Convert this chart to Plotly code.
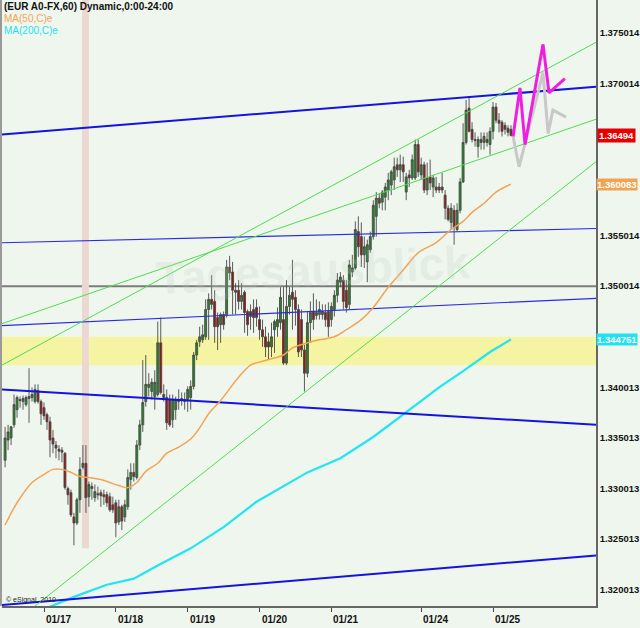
import plotly.graph_objects as go

# ---------------- data ----------------
hours = list(range(-13, 157))  # hourly candle index, 0 = 01/17 00:00

open_ = [1.3328,1.3348,1.3350,1.3363,1.3378,1.3388,1.3386,1.3383,1.3389,1.3390,1.3386,1.3397,1.3386,
         1.3380,1.3373,1.3366,1.3350,1.3343,1.3339,1.3338,1.3335,1.3300,1.3296,1.3272,1.3266,1.3289,1.3321,
         1.3325,1.3292,1.3302,1.3291,1.3295,1.3296,1.3294,1.3294,1.3292,1.3284,1.3286,1.3267,1.3282,1.3272,
         1.3282,1.3309,1.3316,1.3311,1.3343,1.3363,1.3386,1.3400,1.3396,1.3391,1.3393,1.3444,1.3393,1.3390,
         1.3388,1.3368,1.3378,1.3388,1.3389,1.3386,1.3388,1.3390,1.3401,1.3432,1.3445,1.3447,1.3450,1.3477,
         1.3487,1.3485,1.3469,1.3462,1.3472,1.3472,1.3519,1.3514,1.3496,1.3496,1.3485,1.3494,1.3475,1.3475,
         1.3477,1.3479,1.3467,1.3457,1.3450,1.3445,1.3440,1.3457,1.3460,1.3464,1.3467,1.3424,1.3480,1.3494,
         1.3489,1.3477,1.3467,1.3437,1.3414,1.3464,1.3475,1.3471,1.3472,1.3472,1.3474,1.3475,1.3467,1.3477,
         1.3491,1.3504,1.3506,1.3496,1.3482,1.3514,1.3518,1.3554,1.3549,1.3531,1.3524,1.3536,1.3549,1.3569,
         1.3587,1.3583,1.3588,1.3595,1.3600,1.3605,1.3620,1.3615,1.3620,1.3593,1.3610,1.3607,1.3607,1.3640,
         1.3610,1.3620,1.3595,1.3608,1.3598,1.3598,1.3598,1.3598,1.3590,1.3577,1.3563,1.3575,1.3556,1.3575,
         1.3603,1.3642,1.3676,1.3655,1.3645,1.3638,1.3645,1.3642,1.3645,1.3640,1.3653,1.3677,1.3664,1.3662,
         1.3659,1.3656,1.3655]
high = [1.3361,1.3363,1.3362,1.3393,1.3392,1.3391,1.3392,1.3392,1.3419,1.3400,1.3403,1.3403,1.3388,
        1.3385,1.3375,1.3371,1.3358,1.3347,1.3343,1.3341,1.3336,1.3302,1.3299,1.3276,1.3291,1.3331,1.3343,
        1.3343,1.3307,1.3306,1.3304,1.3302,1.3299,1.3299,1.3297,1.3296,1.3292,1.3289,1.3289,1.3284,1.3289,
        1.3319,1.3325,1.3325,1.3348,1.3368,1.3427,1.3432,1.3414,1.3409,1.3417,1.3465,1.3469,1.3403,1.3398,
        1.3393,1.3393,1.3391,1.3398,1.3395,1.3395,1.3401,1.3407,1.3435,1.3447,1.3460,1.3462,1.3487,1.3493,
        1.3511,1.3496,1.3474,1.3474,1.3475,1.3526,1.3530,1.3524,1.3503,1.3506,1.3503,1.3496,1.3477,1.3482,
        1.3487,1.3487,1.3480,1.3467,1.3460,1.3454,1.3464,1.3467,1.3479,1.3499,1.3499,1.3506,1.3499,1.3526,
        1.3496,1.3482,1.3477,1.3442,1.3475,1.3485,1.3493,1.3487,1.3485,1.3482,1.3482,1.3484,1.3484,1.3496,
        1.3513,1.3514,1.3511,1.3506,1.3526,1.3531,1.3564,1.3569,1.3563,1.3549,1.3546,1.3554,1.3585,1.3593,
        1.3592,1.3595,1.3602,1.3612,1.3615,1.3627,1.3627,1.3630,1.3628,1.3612,1.3615,1.3630,1.3645,1.3645,
        1.3627,1.3623,1.3622,1.3625,1.3610,1.3608,1.3602,1.3612,1.3595,1.3580,1.3582,1.3580,1.3582,1.3607,
        1.3661,1.3684,1.3687,1.3662,1.3652,1.3648,1.3652,1.3652,1.3652,1.3657,1.3682,1.3681,1.3671,1.3664,
        1.3662,1.3659,1.3659]
low = [1.3321,1.3338,1.3343,1.3360,1.3370,1.3380,1.3378,1.3381,1.3365,1.3386,1.3384,1.3384,1.3363,
       1.3368,1.3358,1.3331,1.3335,1.3330,1.3328,1.3326,1.3299,1.3284,1.3272,1.3244,1.3264,1.3276,1.3319,
       1.3276,1.3282,1.3289,1.3287,1.3289,1.3282,1.3284,1.3282,1.3277,1.3276,1.3252,1.3264,1.3259,1.3267,
       1.3279,1.3299,1.3307,1.3309,1.3338,1.3356,1.3381,1.3391,1.3388,1.3378,1.3391,1.3393,1.3386,1.3358,
       1.3361,1.3360,1.3368,1.3378,1.3382,1.3378,1.3376,1.3378,1.3398,1.3427,1.3440,1.3444,1.3447,1.3447,
       1.3477,1.3444,1.3437,1.3444,1.3457,1.3469,1.3506,1.3472,1.3472,1.3477,1.3477,1.3454,1.3451,1.3457,
       1.3454,1.3460,1.3447,1.3440,1.3430,1.3427,1.3430,1.3434,1.3450,1.3457,1.3422,1.3422,1.3472,1.3457,
       1.3461,1.3430,1.3430,1.3396,1.3410,1.3444,1.3457,1.3467,1.3467,1.3467,1.3460,1.3450,1.3460,1.3470,
       1.3484,1.3499,1.3477,1.3474,1.3477,1.3509,1.3516,1.3529,1.3519,1.3518,1.3504,1.3533,1.3546,1.3549,
       1.3577,1.3575,1.3575,1.3585,1.3590,1.3595,1.3608,1.3603,1.3603,1.3585,1.3598,1.3605,1.3605,1.3608,
       1.3605,1.3592,1.3590,1.3595,1.3588,1.3592,1.3592,1.3592,1.3566,1.3564,1.3556,1.3541,1.3554,1.3572,
       1.3602,1.3640,1.3652,1.3642,1.3638,1.3627,1.3635,1.3635,1.3638,1.3630,1.3645,1.3661,1.3652,1.3648,
       1.3650,1.3648,1.3648]
close = [1.3350,1.3356,1.3361,1.3383,1.3390,1.3387,1.3389,1.3390,1.3391,1.3393,1.3398,1.3386,1.3374,
         1.3372,1.3366,1.3348,1.3344,1.3340,1.3337,1.3336,1.3301,1.3294,1.3274,1.3266,1.3289,1.3319,1.3325,
         1.3291,1.3304,1.3300,1.3297,1.3294,1.3293,1.3292,1.3286,1.3279,1.3279,1.3266,1.3282,1.3268,1.3284,
         1.3311,1.3316,1.3312,1.3343,1.3363,1.3385,1.3403,1.3403,1.3405,1.3405,1.3444,1.3395,1.3390,1.3365,
         1.3363,1.3388,1.3388,1.3386,1.3387,1.3388,1.3398,1.3401,1.3432,1.3444,1.3450,1.3452,1.3477,1.3487,
         1.3482,1.3460,1.3460,1.3472,1.3462,1.3519,1.3513,1.3496,1.3494,1.3485,1.3491,1.3474,1.3462,1.3470,
         1.3469,1.3469,1.3457,1.3450,1.3440,1.3440,1.3450,1.3465,1.3467,1.3489,1.3424,1.3480,1.3491,1.3487,
         1.3477,1.3435,1.3437,1.3414,1.3464,1.3474,1.3467,1.3474,1.3477,1.3475,1.3467,1.3460,1.3480,1.3491,
         1.3506,1.3509,1.3485,1.3479,1.3521,1.3518,1.3556,1.3539,1.3531,1.3539,1.3541,1.3549,1.3580,1.3587,
         1.3582,1.3593,1.3598,1.3605,1.3613,1.3618,1.3615,1.3620,1.3613,1.3608,1.3607,1.3625,1.3640,1.3613,
         1.3620,1.3595,1.3607,1.3602,1.3607,1.3595,1.3595,1.3595,1.3577,1.3566,1.3577,1.3558,1.3575,1.3603,
         1.3642,1.3674,1.3653,1.3645,1.3644,1.3645,1.3642,1.3648,1.3642,1.3653,1.3677,1.3664,1.3661,1.3653,
         1.3655,1.3652,1.3649]

ma50_hours = [-13,-9,-4,0,3,6,9,12,15,19,22,25,28,31,34,38,41,45,49,52,55,59,65,69,72,77,80,83,88,92,
              97,101,106,110,115,120,125,131,136,140,143,147,151,156]
ma50_vals = [1.3264,1.3286,1.3306,1.3314,1.3319,1.3319,1.3316,1.3312,1.3311,1.3309,1.3306,1.3303,1.3301,
             1.3306,1.3317,1.3325,1.3335,1.3341,1.3349,1.3360,1.3374,1.3387,1.3410,1.3422,1.3425,1.3429,
             1.3432,1.3439,1.3444,1.3447,1.3450,1.3457,1.3467,1.3479,1.3499,1.3516,1.3533,1.3543,1.3556,
             1.3564,1.3573,1.3582,1.3593,1.360083]

ma200_hours = [-4,1,10,21,30,38,49,60,71,88,99,110,120,132,140,149,156]
ma200_vals = [1.3176,1.3182,1.3193,1.3205,1.3211,1.3224,1.3241,1.3262,1.3287,1.3316,1.3330,1.3351,1.3373,
              1.3400,1.3416,1.3435,1.344751]

fc_pink_hours = [156.7,159,160.7,166.7,168.7,174]
fc_pink_vals = [1.3648,1.3696,1.3640,1.3739,1.3691,1.3705]
fc_gray_hours = [156.7,158.7,166.7,168.4,170,174.4]
fc_gray_vals = [1.3648,1.3618,1.3711,1.3651,1.3674,1.3667]

line_hours = [-14.03, 184.4]
blue_thick = [[1.3650, 1.3697], [1.3398, 1.3363], [1.3185, 1.3234]]
blue_thin = [[1.3543, 1.3557], [1.3461, 1.3488]]
green_lines = [([-14.03, 184.4], [1.3422, 1.3741]),
               ([-14.03, 184.4], [1.3463, 1.3665]),
               ([-3.0, 184.4], [1.3184, 1.3623])]

yellow_zone = [1.3422, 1.3450]
marker_band_hours = [12.7, 15.0]
marker_band_low = 1.3241
round_level = 1.35

day_ticks = [0, 24, 48, 72, 96, 126, 150]
day_labels = ["01/17", "01/18", "01/19", "01/20", "01/21", "01/24", "01/25"]

ytick_vals = [1.375014, 1.370014, 1.355014, 1.350014, 1.340013, 1.335013, 1.330013, 1.325013, 1.320013]
ytick_text = ["1.375014", "1.370014", "1.355014", "1.350014", "1.340013", "1.335013", "1.330013",
              "1.325013", "1.320013"]

last_price = 1.36494
ma50_last = 1.360083
ma200_last = 1.344751

x_range = [-14.03, 184.4]
y_range = [1.3184, 1.37828]

# ---------------- figure ----------------
BG = "#eff6ee"
FONT = "Liberation Sans"
LBL = 9.5
fig = go.Figure()

fig.add_trace(go.Scatter(x=ma200_hours, y=ma200_vals, mode="lines",
                         line=dict(color="#22e4f2", width=2.2), hoverinfo="skip"))

for ys in blue_thick:
    fig.add_trace(go.Scatter(x=line_hours, y=ys, mode="lines",
                             line=dict(color="#1414e0", width=2), hoverinfo="skip"))
for ys in blue_thin:
    fig.add_trace(go.Scatter(x=line_hours, y=ys, mode="lines",
                             line=dict(color="#2a2ae6", width=1.1), hoverinfo="skip"))
for xs, ys in green_lines:
    fig.add_trace(go.Scatter(x=xs, y=ys, mode="lines",
                             line=dict(color="#4fdc4f", width=1), hoverinfo="skip"))

fig.add_trace(go.Scatter(x=ma50_hours, y=ma50_vals, mode="lines",
                         line=dict(color="#f2a456", width=1.5, shape="spline"), hoverinfo="skip"))

fig.add_trace(go.Candlestick(
    x=hours, open=open_, high=high, low=low, close=close,
    increasing=dict(fillcolor="#1f8c1f", line=dict(color="#4a4a4a", width=0.9)),
    decreasing=dict(fillcolor="#a01212", line=dict(color="#4a4a4a", width=0.9)),
    whiskerwidth=0, hoverinfo="skip"))

fig.add_trace(go.Scatter(x=fc_gray_hours, y=fc_gray_vals, mode="lines",
                         line=dict(color="#c8c8c8", width=3), hoverinfo="skip"))
fig.add_trace(go.Scatter(x=fc_pink_hours, y=fc_pink_vals, mode="lines",
                         line=dict(color="#f01ee0", width=3), hoverinfo="skip"))

shapes = [
    dict(type="rect", xref="paper", x0=0, x1=1, yref="y", y0=yellow_zone[0], y1=yellow_zone[1],
         fillcolor="#f4f4a2", line=dict(width=0), layer="below"),
    dict(type="rect", xref="x", x0=marker_band_hours[0], x1=marker_band_hours[1], yref="y",
         y0=marker_band_low, y1=y_range[1], fillcolor="#ecd8d2", line=dict(width=0), layer="below"),
    dict(type="line", xref="paper", x0=0, x1=1, yref="y", y0=round_level, y1=round_level,
         line=dict(color="#7c7c7c", width=2), layer="below"),
    dict(type="rect", xref="paper", x0=-0.004, x1=0.0, yref="paper", y0=0, y1=1,
         fillcolor="#9a9a9a", line=dict(width=0)),
]

annotations = [
    dict(text="Tagesausblick", x=90, y=1.3516, xref="x", yref="y", showarrow=False,
         font=dict(family=FONT, size=46, color="rgba(190,205,190,0.22)", weight="bold"), textangle=-3),
    dict(text="(EUR A0-FX,60) Dynamic,0:00-24:00", x=0.0, y=1.0, xref="paper", yref="paper",
         xanchor="left", yanchor="top", showarrow=False, xshift=0, yshift=1,
         font=dict(family=FONT, size=10, color="#111111", weight="bold")),
    dict(text="MA(50,C)e", x=0.0, y=1.0, xref="paper", yref="paper", xanchor="left", yanchor="top",
         showarrow=False, xshift=0, yshift=-11, font=dict(family=FONT, size=10, color="#f2a456")),
    dict(text="MA(200,C)e", x=0.0, y=1.0, xref="paper", yref="paper", xanchor="left", yanchor="top",
         showarrow=False, xshift=0, yshift=-23, font=dict(family=FONT, size=10, color="#1fe0f0")),
    dict(text="© eSignal, 2010", x=0.0, y=0.0, xref="paper", yref="paper", xanchor="left",
         yanchor="bottom", showarrow=False, xshift=2, yshift=0,
         font=dict(family=FONT, size=7, color="#222222")),
    dict(text="1.36494", x=1.0, y=last_price, xref="paper", yref="y", xanchor="left", showarrow=False,
         xshift=1, bgcolor="#e80000", borderpad=1,
         font=dict(family=FONT, size=LBL, color="white", weight="bold")),
    dict(text="1.360083", x=1.0, y=ma50_last, xref="paper", yref="y", xanchor="left", showarrow=False,
         xshift=0, bgcolor="#f0a452", borderpad=0,
         font=dict(family=FONT, size=LBL, color="white", weight="bold")),
    dict(text="1.344751", x=1.0, y=ma200_last, xref="paper", yref="y", xanchor="left", showarrow=False,
         xshift=0, bgcolor="#20e2f2", borderpad=0,
         font=dict(family=FONT, size=LBL, color="white", weight="bold")),
]
for t, lab in zip(day_ticks, day_labels):
    annotations.append(dict(text=lab, x=t, y=0, xref="x", yref="paper", xanchor="left", yanchor="top",
                            showarrow=False, yshift=-6,
                            font=dict(family=FONT, size=10, color="#111111", weight="bold")))

fig.update_layout(
    width=640, height=628,
    margin=dict(l=2, r=44, t=0, b=22, autoexpand=False),
    paper_bgcolor=BG, plot_bgcolor=BG,
    showlegend=False, boxgap=0.08,
    shapes=shapes, annotations=annotations,
    xaxis=dict(range=x_range, tickvals=day_ticks, showticklabels=False, ticks="outside", ticklen=4,
               tickcolor="#444", showgrid=False, zeroline=False, showline=True, linecolor="#666",
               linewidth=1.5, rangeslider=dict(visible=False), fixedrange=True),
    yaxis=dict(range=y_range, side="right", tickvals=ytick_vals, ticktext=ytick_text, ticks="",
               showgrid=False, zeroline=False, showline=True,
               linecolor="#666", linewidth=1.5, fixedrange=True,
               tickfont=dict(family=FONT, size=LBL, color="#111111", weight="bold")),
)

fig.write_html("out.html", config={"displayModeBar": False},
               post_script="document.body.style.margin='0';document.body.style.overflow='hidden';")
